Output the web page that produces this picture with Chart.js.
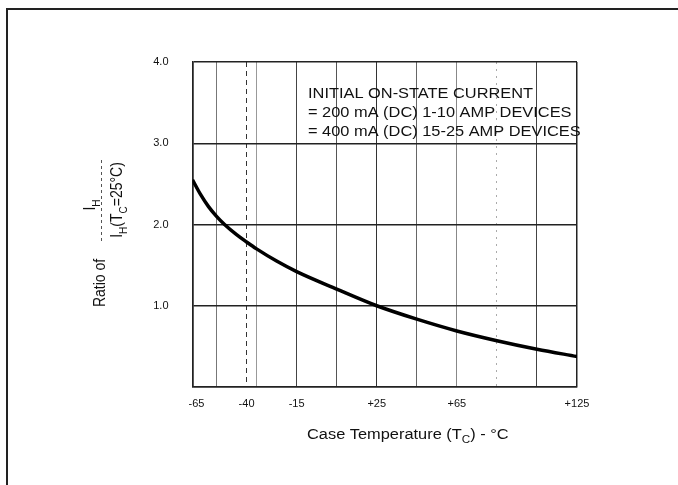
<!DOCTYPE html>
<html lang="en">
<head>
<meta charset="UTF-8">
<title>Holding current vs case temperature</title>
<script src="https://cdn.jsdelivr.net/npm/chart.js"></script>
<style>
  html, body { margin: 0; padding: 0; background: #fff; }
  #wrap { width: 678px; height: 485px; }
</style>
</head>
<body>
<div id="wrap"><canvas id="ih-chart" width="678" height="485"></canvas></div>

<script>
// curve: case temperature (°C) and I_H / I_H(25°C)
const caseTemps = [-67, -63, -59, -55, -51, -45, -40, -35, -25, -15, 5, 25, 45, 65, 85, 105, 125];
const ihRatio   = [2.55, 2.37, 2.22, 2.10, 2.00, 1.875, 1.785, 1.70, 1.55, 1.42, 1.205, 1.00, 0.835, 0.69, 0.57, 0.465, 0.375];

// labelled temperatures on the x axis
const xTickValues = [-65, -40, -15, 25, 65, 125];
const xTickLabels = ['-65', '-40', '-15', '+25', '+65', '+125'];
// vertical rules of the grid
const xGridValues = [-67, -55, -40, -35, -15, 5, 25, 45, 65, 85, 105, 125];

const yTickValues = [0, 1, 2, 3, 4];
const yTickLabels = ['', '1.0', '2.0', '3.0', '4.0'];

const noteLines = [
  'INITIAL ON-STATE CURRENT',
  '= 200 mA (DC) 1-10 AMP DEVICES',
  '= 400 mA (DC) 15-25 AMP DEVICES'
];

const FONT = '"Liberation Sans", Arial, Helvetica, sans-serif';
const STRETCH = 1.17;   // the printed lettering is a bit wide

// line look of each vertical rule (scanned sheet: some are grey, some dashed)
const xGridColor = { '-67': '#222', '-55': '#777', '-40': '#333', '-35': '#999', '-15': '#444', '5': '#555',
                     '25': '#333', '45': '#666', '65': '#888', '85': '#aaa', '105': '#444', '125': '#222' };
const xGridDash = { '-40': [5, 4], '85': [2, 5] };

// total width of a run of text pieces
function runWidth(c, runs) {
  let w = 0;
  runs.forEach(r => { c.font = r.size + 'px ' + FONT; w += c.measureText(r.t).width; });
  return w;
}
// write the pieces left to right, subscripts dropped a little
function putRuns(c, runs, startX) {
  let x = startX;
  runs.forEach(r => {
    c.font = r.size + 'px ' + FONT;
    c.fillText(r.t, x, r.sub ? 4 : 0);
    x += c.measureText(r.t).width;
  });
}

const paperText = {
  id: 'paperText',
  beforeDraw(chart) {
    const c = chart.ctx;
    c.save();
    c.fillStyle = '#fff';
    c.fillRect(0, 0, chart.width, chart.height);
    c.restore();
  },
  afterDraw(chart) {
    const c = chart.ctx;
    c.save();
    c.fillStyle = '#111';
    c.textBaseline = 'alphabetic';
    c.textAlign = 'left';

    // page frame, top and left rules
    c.strokeStyle = '#222';
    c.lineWidth = 2;
    c.beginPath();
    c.moveTo(7, 485);
    c.lineTo(7, 9);
    c.lineTo(678, 9);
    c.stroke();

    // note in the upper right of the plot
    const noteBase = [98, 117, 136];
    noteLines.forEach((line, i) => {
      c.save();
      c.translate(308, noteBase[i]);
      c.scale(STRETCH, 1);
      c.font = '14px ' + FONT;
      c.fillText(line, 0, 0);
      c.restore();
    });

    // x axis title
    c.save();
    c.translate(307, 439);
    c.scale(STRETCH, 1);
    putRuns(c, [
      { t: 'Case Temperature (T', size: 14 },
      { t: 'C', size: 10, sub: true },
      { t: ') - \u00B0C', size: 14 }
    ], 0);
    c.restore();

    // y axis title, turned on its side
    const vertical = (runs, baseX, midY) => {
      c.save();
      c.translate(baseX, midY);
      c.scale(STRETCH, 1);
      c.rotate(-Math.PI / 2);
      const w = runWidth(c, runs);
      putRuns(c, runs, -w / 2);
      c.restore();
    };
    vertical([{ t: 'Ratio of', size: 14 }], 105, 283);
    vertical([{ t: 'I', size: 14 }, { t: 'H', size: 10, sub: true }], 95, 205);
    vertical([
      { t: 'I', size: 14 }, { t: 'H', size: 10, sub: true },
      { t: '(T', size: 14 }, { t: 'C', size: 10, sub: true },
      { t: '=25\u00B0C)', size: 14 }
    ], 122, 200);

    // fraction bar
    c.strokeStyle = '#555';
    c.lineWidth = 1;
    c.setLineDash([3, 3]);
    c.beginPath();
    c.moveTo(101.5, 160);
    c.lineTo(101.5, 243);
    c.stroke();
    c.restore();
  }
};

const allXTicks = [...new Set([...xGridValues, ...xTickValues])].sort((a, b) => a - b);

new Chart(document.getElementById('ih-chart'), {
  type: 'line',
  data: {
    datasets: [{
      data: caseTemps.map((t, i) => ({ x: t, y: ihRatio[i] })),
      borderColor: '#000',
      borderWidth: 3.5,
      pointRadius: 0,
      fill: false,
      cubicInterpolationMode: 'monotone'
    }]
  },
  options: {
    responsive: false,
    animation: false,
    events: [],
    layout: { padding: { left: 0, top: 62, right: 101, bottom: 0 } },
    plugins: { legend: { display: false }, tooltip: { enabled: false } },
    scales: {
      x: {
        type: 'linear',
        min: -67,
        max: 125,
        afterBuildTicks: s => { s.ticks = allXTicks.map(v => ({ value: v })); },
        afterFit: s => { s.height = 98; },
        ticks: {
          autoSkip: false,
          maxRotation: 0,
          padding: 10,
          color: '#111',
          font: { family: FONT, size: 11 },
          callback: v => {
            const i = xTickValues.indexOf(v);
            return i < 0 ? '' : xTickLabels[i];
          }
        },
        grid: {
          drawTicks: false,
          color: ctx => (ctx.tick && xGridColor[ctx.tick.value]) || 'rgba(0,0,0,0)',
          lineWidth: ctx => ctx.tick && (ctx.tick.value === -67 || ctx.tick.value === 125) ? 1.5 : 1
        },
        border: {
          color: '#222',
          width: 1.5,
          dash: ctx => (ctx.tick && xGridDash[ctx.tick.value]) || []
        }
      },
      y: {
        min: 0,
        max: 4,
        afterBuildTicks: s => { s.ticks = yTickValues.map(v => ({ value: v })); },
        afterFit: s => { s.width = 192.5; },
        ticks: {
          padding: 24,
          color: '#111',
          font: { family: FONT, size: 11 },
          callback: v => yTickLabels[yTickValues.indexOf(v)]
        },
        grid: { drawTicks: false, color: '#222', lineWidth: 1.5 },
        border: { color: '#222', width: 1.5 }
      }
    }
  },
  plugins: [paperText]
});
</script>
</body>
</html>
